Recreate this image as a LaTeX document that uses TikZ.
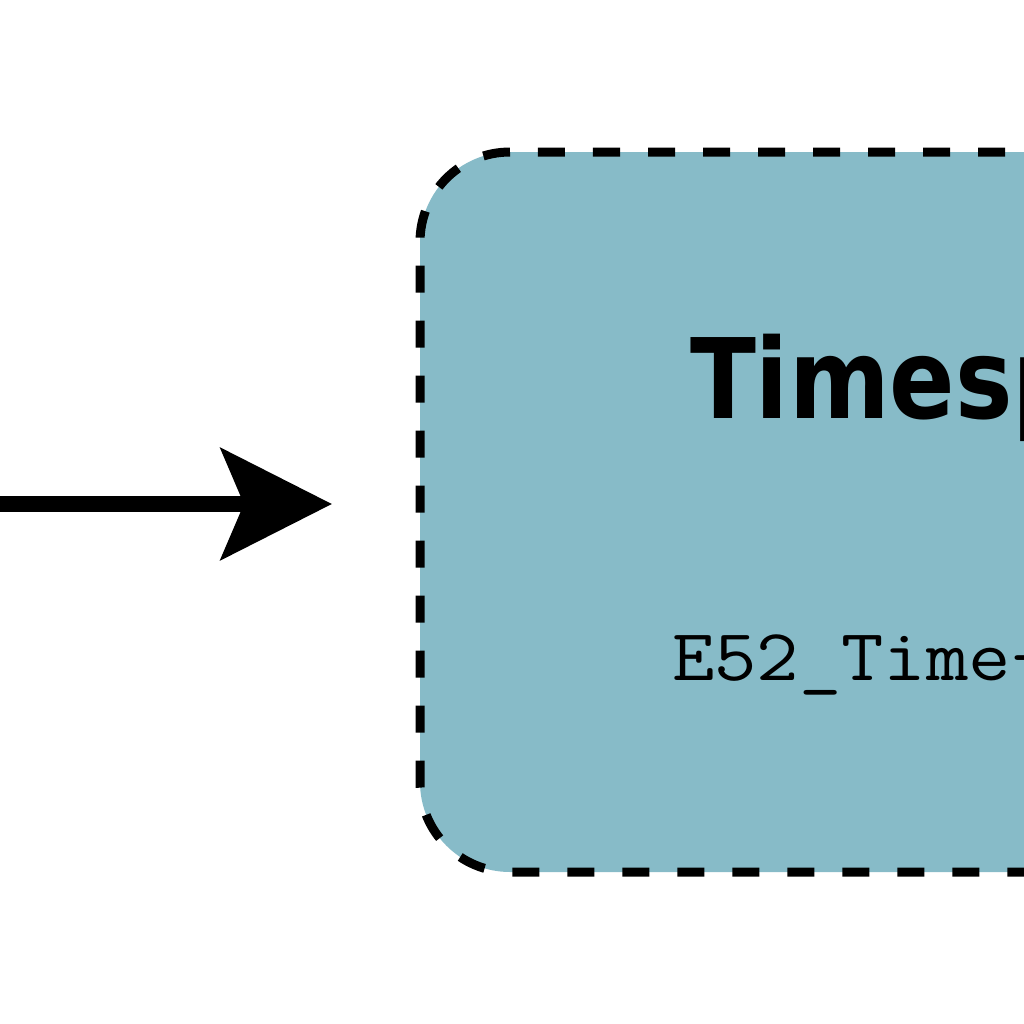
\documentclass[tikz,border=0pt]{standalone}
\usepackage{fontspec}
\newfontfamily\titlefont[FakeStretch=0.87]{DejaVu Sans}
\usetikzlibrary{arrows.meta}
\definecolor{spanfill}{HTML}{87BBC8}
\begin{document}
\begin{tikzpicture}[every node/.style={inner sep=0pt, outer sep=0pt}]
\clip (0,0) rectangle (10.24,-10.24);
% entity box
\node[draw, fill=spanfill, line width=0.09cm, dash pattern=on 0.27cm off 0.28cm, rounded corners=0.9cm, minimum width=10.6cm, minimum height=7.2cm] (span) at (9.5,-5.12) {};
\node[anchor=base west, font=\titlefont\bfseries\fontsize{31.6}{36}\selectfont] (title) at (6.90,-4.18) {Timespan};
\node[anchor=base west, xscale=1.12, font=\ttfamily\fontsize{20.9}{24}\selectfont] (code) at (6.72,-6.80) {E52\_Time-Span};
% incoming link
\coordinate (src) at (-0.5,-5.04);
\draw[line width=0.16cm, -{Stealth[length=1.11cm, width=1.11cm, inset=0.23cm]}, shorten >=0.88cm] (src) -- (src -| span.west);
\end{tikzpicture}
\end{document}
